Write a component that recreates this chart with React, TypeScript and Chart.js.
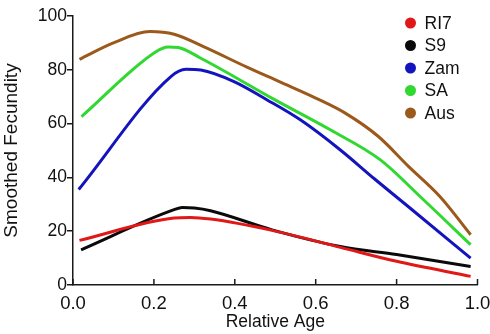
import React, { useEffect, useRef } from "react";
import { Chart, registerables } from "chart.js";

Chart.register(...registerables);

const seriesLabels = ["RI7", "S9", "Zam", "SA", "Aus"];
const seriesColors = ["#e01818", "#0a0a0a", "#1414bf", "#30d830", "#9b5a1b"];

const ageRI7 = [0.016, 0.25, 0.29, 0.34, 0.492, 0.661, 0.8, 0.983];
const fecRI7 = [16.6, 24.9, 25.1, 24.5, 20.3, 14.0, 8.8, 3.2];

const ageS9 = [0.02, 0.25, 0.27, 0.3, 0.34, 0.492, 0.661, 0.8, 0.983];
const fecS9 = [13.1, 28.0, 28.8, 28.6, 27.6, 20.5, 14.3, 11.3, 6.9];

const ageZam = [0.014, 0.242, 0.279, 0.316, 0.398, 0.48, 0.562, 0.661, 0.745, 0.83, 0.983];
const fecZam = [35.5, 77.5, 80.2, 79.9, 75.6, 68.8, 61.4, 50.2, 39.5, 29.0, 10.0];

const ageSA = [0.021, 0.205, 0.235, 0.26, 0.316, 0.496, 0.636, 0.76, 0.858, 0.983];
const fecSA = [62.6, 86.7, 88.5, 88.3, 84.3, 69.1, 57.7, 46.5, 32.9, 15.0];

const ageAus = [0.016, 0.1, 0.19, 0.25, 0.32, 0.43, 0.51, 0.6, 0.673, 0.755, 0.83, 0.907, 0.983];
const fecAus = [83.9, 90.0, 94.2, 93.2, 88.8, 81.0, 75.6, 69.5, 63.9, 55.2, 44.0, 32.9, 18.7];

const seriesAges = [ageRI7, ageS9, ageZam, ageSA, ageAus];
const seriesFec = [fecRI7, fecS9, fecZam, fecSA, fecAus];

const xTicks = [0, 0.2, 0.4, 0.6, 0.8, 1.0];
const yTicks = [0, 20, 40, 60, 80, 100];

const FONT = "'Liberation Sans', Arial, sans-serif";
const AXIS = "#1a1a1a";

const legendPlugin = {
  id: "dotLegend",
  afterDraw(chart: any) {
    const ctx = chart.ctx;
    const area = chart.chartArea;
    ctx.save();
    ctx.font = `17.5px ${FONT}`;
    ctx.textBaseline = "middle";
    ctx.textAlign = "left";
    chart.data.datasets.forEach((ds: any, i: number) => {
      const cx = area.right - 67;
      const cy = area.top + 7 + i * 22.5;
      ctx.beginPath();
      ctx.arc(cx, cy, 5.5, 0, Math.PI * 2);
      ctx.fillStyle = ds.borderColor;
      ctx.fill();
      ctx.fillStyle = "#111";
      ctx.fillText(ds.label, cx + 14, cy + 1);
    });
    ctx.restore();
  },
};

const xTickMarks = {
  id: "xTickMarks",
  afterDraw(chart: any) {
    const ctx = chart.ctx;
    const xs = chart.scales.x;
    const bottom = chart.chartArea.bottom;
    ctx.save();
    ctx.strokeStyle = AXIS;
    ctx.lineWidth = 1.5;
    xs.ticks.forEach((t: any) => {
      const px = xs.getPixelForValue(t.value);
      ctx.beginPath();
      ctx.moveTo(px, bottom);
      ctx.lineTo(px, bottom - 6);
      ctx.stroke();
    });
    ctx.restore();
  },
};

export default function App() {
  const ref = useRef<HTMLCanvasElement>(null);
  useEffect(() => {
    if (!ref.current) return;
    const datasets = seriesLabels.map((label, i) => ({
      label,
      data: seriesAges[i].map((a, j) => ({ x: a, y: seriesFec[i][j] })),
      borderColor: seriesColors[i],
      backgroundColor: seriesColors[i],
      borderWidth: 3,
      pointRadius: 0,
      fill: false,
      cubicInterpolationMode: "monotone" as const,
    }));
    const chart = new Chart(ref.current, {
      type: "line",
      data: { datasets },
      plugins: [legendPlugin, xTickMarks],
      options: {
        animation: false,
        responsive: false,
        maintainAspectRatio: false,
        layout: { padding: { top: 16, right: 12.5, left: 0, bottom: 0 } },
        plugins: { legend: { display: false }, tooltip: { enabled: false } },
        scales: {
          x: {
            type: "linear",
            min: 0,
            max: 1,
            afterBuildTicks: (s: any) => {
              s.ticks = xTicks.map((v) => ({ value: v }));
            },
            afterFit: (s: any) => {
              s.height = 49;
              s.paddingRight = 12;
              s.paddingLeft = 0;
            },
            grid: { drawOnChartArea: false, drawTicks: false },
            border: { color: AXIS, width: 1.5 },
            ticks: {
              color: "#111",
              padding: 8,
              font: { family: FONT, size: 18.5 },
              maxRotation: 0,
              callback: (v: any) => Number(v).toFixed(1),
            },
            title: {
              display: true,
              text: "Relative Age",
              color: "#111",
              font: { family: FONT, size: 17.5 },
              padding: { top: 0, bottom: 1 },
            },
          },
          y: {
            min: 0,
            max: 100,
            afterBuildTicks: (s: any) => {
              s.ticks = yTicks.map((v) => ({ value: v }));
            },
            afterFit: (s: any) => {
              s.width = 73;
            },
            grid: {
              drawOnChartArea: false,
              drawTicks: true,
              tickLength: 6,
              color: AXIS,
              lineWidth: 1.5,
            },
            border: { color: AXIS, width: 1.5 },
            ticks: {
              color: "#111",
              padding: 0,
              font: { family: FONT, size: 17.5 },
            },
            title: {
              display: true,
              text: "Smoothed Fecundity",
              color: "#111",
              font: { family: FONT, size: 19 },
              padding: { top: 0, bottom: 0 },
            },
          },
        },
      },
    });
    return () => chart.destroy();
  }, []);
  return (
    <div style={{ position: "absolute", left: 0, top: 0, width: 490, height: 334, background: "#fff" }}>
      <canvas ref={ref} width={490} height={334} style={{ display: "block" }} />
    </div>
  );
}
